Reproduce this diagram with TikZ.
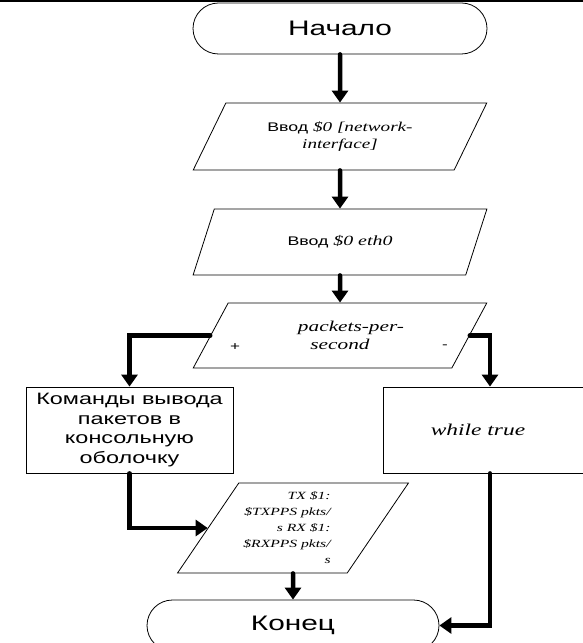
\documentclass[tikz,border=0pt]{standalone}
\usepackage{fontspec}
\setmainfont{Liberation Serif}
\newfontfamily\sansx[FakeStretch=1.42]{Liberation Sans}
\newfontfamily\serifx[FakeStretch=1.42]{Liberation Serif}
\usetikzlibrary{shapes.geometric,shapes.misc,arrows.meta}
\newcommand\vvodword{{\sansx\upshape\fontsize{12.5bp}{17bp}\selectfont Ввод}}
\begin{document}
\begin{tikzpicture}[x=1bp,y=-1bp,
  shapeline/.style={draw=black, line width=0.8bp},
  term/.style={shapeline, rounded rectangle, minimum width=294bp, minimum height=51bp, inner sep=0pt,
    font=\sansx\fontsize{21bp}{25bp}\selectfont},
  para/.style={shapeline, trapezium, trapezium left angle=55, trapezium right angle=125,
    trapezium stretches=true, inner sep=0pt, align=center},
  procbox/.style={shapeline, rectangle, minimum height=86bp, inner sep=0pt, align=center},
  sign/.style={inner sep=0pt, font=\sansx\fontsize{12bp}{14bp}\selectfont},
  conn/.style={line width=4.5bp, line cap=round, -{Triangle[length=12bp,width=16bp]}}
]
\useasboundingbox (0,0) rectangle (583,643);
\fill[black] (0,0) rectangle (583,2.5);

\node[term] (start) at (340,28.5) {Начало};
\node[para, minimum width=294bp, minimum height=67bp,
  font=\serifx\itshape\fontsize{13.5bp}{17bp}\selectfont] (in1) at (340,136.5)
  {\vvodword{} \$0 [network-\\interface]};
\node[para, minimum width=294bp, minimum height=66bp,
  font=\serifx\itshape\fontsize{14bp}{17bp}\selectfont] (in2) at (340,242)
  {\vvodword{} \$0 eth0};
\node[para, minimum width=294bp, minimum height=65bp,
  font=\serifx\itshape\fontsize{15bp}{18bp}\selectfont] (cond) at (340,335.5)
  {\hspace*{22bp}packets-per-\\second};
\node[sign] (plus) at (235,347) {+};
\node[sign] (minus) at (445,347) {-};

\node[procbox, minimum width=207bp, font=\sansx\fontsize{16.5bp}{19.7bp}\selectfont] (cmds) at (129.5,430)
  {Команды вывода\\пакетов в\\консольную\\оболочку};
\node[procbox, minimum width=214bp, font=\serifx\itshape\fontsize{16.5bp}{20bp}\selectfont] (loop) at (490,430)
  {while true\hspace*{24bp}};

\node[para, minimum width=231bp, minimum height=90bp, align=none,
  font=\serifx\itshape\fontsize{11bp}{16bp}\selectfont] (out) at (293,528)
  {\begin{tabular}{@{}r@{}}TX \$1:\\\$TXPPS pkts/\\s RX \$1:\\\$RXPPS pkts/\\s\end{tabular}\hspace*{12bp}};

\node[term, minimum width=292bp] (stop) at (293,625.5) {Конец};

\draw[conn] (start.south) -- (in1.north);
\draw[conn] (in1.south) -- (in2.north);
\draw[conn] (in2.south) -- (cond.north);
\draw[conn] (cond.west) -| (cmds.north);
\draw[conn] (cond.east) -| (loop.north);
\draw[conn] (cmds.south) |- (out.west);
\draw[conn] (out.south) -- (stop.north);
\draw[conn] (loop.south) |- (stop.east);
\end{tikzpicture}
\end{document}
